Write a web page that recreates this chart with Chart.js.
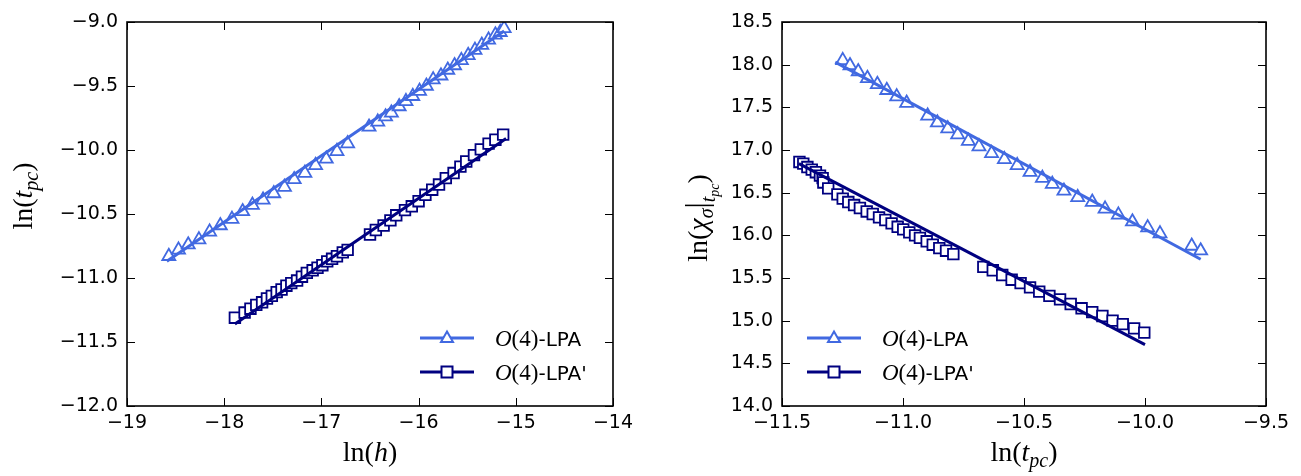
<!DOCTYPE html>
<html>
<head>
<meta charset="utf-8">
<script src="https://cdn.jsdelivr.net/npm/chart.js@4.4.1/dist/chart.umd.min.js"></script>
<style>
  body { margin: 0; background: #fff; width: 1301px; height: 476px; position: relative; overflow: hidden; }
  .box { position: absolute; top: 0; height: 476px; }
</style>
</head>
<body>
<div class="box" style="left:0;width:650px"><canvas id="left"></canvas></div>
<div class="box" style="left:650px;width:651px"><canvas id="right"></canvas></div>
<script>
// left panel: ln(t_pc) vs ln(h)
const hLpa = [-18.57,-18.47,-18.37,-18.26,-18.15,-18.04,-17.92,-17.81,-17.71,-17.60,-17.49,-17.38,-17.28,-17.17,-17.06,-16.95,-16.84,-16.73,-16.51,-16.42,-16.34,-16.28,-16.20,-16.13,-16.06,-15.99,-15.92,-15.85,-15.77,-15.70,-15.63,-15.56,-15.49,-15.42,-15.35,-15.28,-15.21,-15.16,-15.12];
const tLpa = [-10.83,-10.78,-10.74,-10.70,-10.64,-10.59,-10.54,-10.48,-10.43,-10.39,-10.34,-10.29,-10.23,-10.18,-10.12,-10.07,-10.01,-9.95,-9.82,-9.78,-9.74,-9.71,-9.66,-9.62,-9.58,-9.54,-9.50,-9.45,-9.42,-9.375,-9.34,-9.30,-9.26,-9.22,-9.18,-9.14,-9.10,-9.08,-9.05];
const hLpaP = [-17.89,-17.79,-17.73,-17.67,-17.61,-17.56,-17.51,-17.46,-17.41,-17.36,-17.31,-17.25,-17.20,-17.15,-17.09,-17.04,-16.99,-16.94,-16.89,-16.84,-16.78,-16.73,-16.50,-16.44,-16.36,-16.29,-16.23,-16.14,-16.07,-16.00,-15.93,-15.86,-15.79,-15.72,-15.64,-15.57,-15.51,-15.43,-15.36,-15.28,-15.21,-15.13];
const tLpaP = [-11.31,-11.27,-11.24,-11.21,-11.19,-11.16,-11.14,-11.11,-11.09,-11.06,-11.04,-11.02,-10.99,-10.96,-10.94,-10.92,-10.90,-10.87,-10.85,-10.83,-10.80,-10.78,-10.66,-10.625,-10.59,-10.55,-10.51,-10.47,-10.44,-10.40,-10.35,-10.31,-10.27,-10.22,-10.18,-10.13,-10.09,-10.04,-9.995,-9.95,-9.92,-9.88];
const fitHLpa = [-18.59, -15.12];
const fitTLpa = [-10.87, -9.07];
const fitHLpaP = [-17.89, -15.10];
const fitTLpaP = [-11.36, -9.91];

// right panel: ln(chi_sigma) vs ln(t_pc)
const tcLpa = [-11.249,-11.219,-11.185,-11.147,-11.106,-11.067,-11.026,-10.985,-10.898,-10.858,-10.815,-10.774,-10.730,-10.686,-10.634,-10.581,-10.528,-10.475,-10.424,-10.383,-10.335,-10.278,-10.218,-10.165,-10.110,-10.052,-9.989,-9.938,-9.807,-9.770];
const chiLpa = [18.05,17.99,17.92,17.84,17.77,17.70,17.625,17.55,17.40,17.32,17.25,17.18,17.105,17.04,16.96,16.89,16.82,16.74,16.67,16.60,16.52,16.445,16.39,16.31,16.24,16.16,16.09,16.02,15.875,15.82];
const tcLpaP = [-11.428,-11.412,-11.395,-11.377,-11.360,-11.343,-11.332,-11.329,-11.309,-11.271,-11.249,-11.226,-11.202,-11.178,-11.150,-11.125,-11.099,-11.073,-11.047,-11.022,-10.999,-10.974,-10.950,-10.930,-10.902,-10.877,-10.850,-10.822,-10.792,-10.668,-10.629,-10.590,-10.551,-10.514,-10.475,-10.437,-10.395,-10.351,-10.307,-10.262,-10.218,-10.176,-10.134,-10.092,-10.045,-10.003];
const chiLpaP = [16.86,16.84,16.80,16.77,16.74,16.70,16.67,16.62,16.55,16.48,16.43,16.39,16.355,16.32,16.28,16.25,16.21,16.18,16.14,16.10,16.07,16.035,16.00,15.97,15.93,15.89,15.85,15.82,15.78,15.63,15.59,15.535,15.48,15.44,15.39,15.34,15.29,15.25,15.195,15.145,15.10,15.055,15.00,14.96,14.91,14.86];
const fitTcLpa = [-11.28, -9.77];
const fitChiLpa = [18.03, 15.72];
const fitTcLpaP = [-11.43, -10.0];
const fitChiLpaP = [16.84, 14.72];

const seriesNames = ['LPA', "LPA'"];
const lightBlue = '#4169E1';
const navy = '#000080';

const SERIF = '"Liberation Serif", "DejaVu Serif", serif';
const SANS = '"DejaVu Sans", sans-serif';

function pts(xs, ys) {
    return xs.map((x, i) => ({ x: x, y: ys[i] }));
}

function minus(v, digits) {
    const s = digits ? Math.abs(v).toFixed(digits) : String(Math.abs(Math.round(v)));
    return (v < -1e-9 ? '\u2212' : '') + s;
}

function fontOf(p, size) {
    return (p.it ? 'italic ' : '') + Math.round(size * (p.s || 1)) + 'px ' + (p.sans ? SANS : SERIF);
}

// draw a mathtext-like label from pieces, centred on cx
function drawMath(ctx, parts, cx, baseY, size) {
    let w = 0;
    parts.forEach(p => {
        ctx.font = fontOf(p, size);
        w += ctx.measureText(p.t).width + (p.gap || 0) * size;
    });
    drawLeftMath(ctx, parts, cx - w / 2, baseY, size);
}

function drawLeftMath(ctx, parts, x0, baseY, size) {
    let x = x0;
    parts.forEach(p => {
        ctx.font = fontOf(p, size);
        ctx.fillText(p.t, x, baseY + (p.dy || 0) * size);
        x += ctx.measureText(p.t).width + (p.gap || 0) * size;
    });
}

const legendLabel = name => [
    { t: 'O', it: true },
    { t: '(4)' },
    { t: '-' + name, sans: true, s: 0.88 }
];

// frame, inward ticks, axis titles and legend
const decor = {
    id: 'decor',
    afterDatasetsDraw(chart, args, opts) {
        const { ctx, chartArea: a, scales } = chart;
        ctx.save();
        ctx.strokeStyle = '#000';
        ctx.lineWidth = 1;
        ctx.beginPath();
        scales.x.ticks.forEach(t => {
            const p = Math.round(scales.x.getPixelForValue(t.value)) + 0.5;
            ctx.moveTo(p, a.bottom); ctx.lineTo(p, a.bottom - 8);
            ctx.moveTo(p, a.top); ctx.lineTo(p, a.top + 8);
        });
        scales.y.ticks.forEach(t => {
            const p = Math.round(scales.y.getPixelForValue(t.value)) + 0.5;
            ctx.moveTo(a.left, p); ctx.lineTo(a.left + 8, p);
            ctx.moveTo(a.right, p); ctx.lineTo(a.right - 8, p);
        });
        ctx.stroke();
        ctx.lineWidth = 1.6;
        ctx.strokeRect(a.left, a.top, a.right - a.left, a.bottom - a.top);

        // axis titles
        ctx.fillStyle = '#000';
        ctx.textBaseline = 'alphabetic';
        drawMath(ctx, opts.xTitle, (a.left + a.right) / 2, 461, 28);
        ctx.save();
        ctx.translate(opts.yTitleX, opts.yTitleY);
        ctx.rotate(-Math.PI / 2);
        drawMath(ctx, opts.yTitle, 0, 0, 28);
        ctx.restore();

        // legend
        const lg = opts.legend;
        [0, 1].forEach(i => {
            const ds = chart.data.datasets[i];
            const y = lg.y + i * 34;
            ctx.strokeStyle = ds.borderColor;
            ctx.lineWidth = 3;
            ctx.beginPath();
            ctx.moveTo(lg.x, y); ctx.lineTo(lg.x + 54, y);
            ctx.stroke();
            const m = chart.data.datasets[i + 2];
            const cx = lg.x + 27;
            ctx.lineWidth = 2;
            ctx.fillStyle = '#fff';
            ctx.beginPath();
            if (m.pointStyle === 'triangle') {
                ctx.moveTo(cx, y - 6.5); ctx.lineTo(cx + 6, y + 4); ctx.lineTo(cx - 6, y + 4); ctx.closePath();
            } else {
                ctx.rect(cx - 5.5, y - 5.5, 11, 11);
            }
            ctx.fill(); ctx.stroke();
            ctx.fillStyle = '#000';
            drawLeftMath(ctx, legendLabel(seriesNames[i]), lg.x + 75, y + 8, 23);
        });
        ctx.restore();
    }
};

function makeChart(id, cfg) {
    const ctx = document.getElementById(id).getContext('2d');
    return new Chart(ctx, {
        type: 'scatter',
        data: {
            datasets: [
                { label: 'fit LPA', data: pts(cfg.fitA[0], cfg.fitA[1]), showLine: true, borderColor: lightBlue, borderWidth: 3, pointRadius: 0, order: 0 },
                { label: "fit LPA'", data: pts(cfg.fitB[0], cfg.fitB[1]), showLine: true, borderColor: navy, borderWidth: 3, pointRadius: 0, order: 0 },
                { label: seriesNames[0], data: pts(cfg.a[0], cfg.a[1]), pointStyle: 'triangle', pointRadius: 7.5, borderWidth: 1.8, borderColor: lightBlue, backgroundColor: '#fff', order: 1 },
                { label: seriesNames[1], data: pts(cfg.b[0], cfg.b[1]), pointStyle: 'rect', pointRadius: 7.5, borderWidth: 1.8, borderColor: navy, backgroundColor: '#fff', order: 2 }
            ]
        },
        options: {
            responsive: true,
            maintainAspectRatio: false,
            animation: false,
            layout: { padding: { top: 22, right: cfg.padRight, left: 0, bottom: 0 } },
            plugins: {
                legend: { display: false },
                tooltip: { enabled: false },
                decor: cfg.decor
            },
            scales: {
                x: {
                    type: 'linear', min: cfg.xMin, max: cfg.xMax,
                    grid: { display: false, drawTicks: false },
                    border: { display: false },
                    ticks: { stepSize: cfg.xStep, autoSkip: false, maxRotation: 0, padding: 6, color: '#000', font: { family: SANS, size: 19 }, callback: v => minus(v, cfg.xDigits) },
                    afterFit: s => { s.height = 70; }
                },
                y: {
                    type: 'linear', min: cfg.yMin, max: cfg.yMax,
                    grid: { display: false, drawTicks: false },
                    border: { display: false },
                    ticks: { stepSize: 0.5, autoSkip: false, padding: 9, color: '#000', font: { family: SANS, size: 19 }, callback: v => minus(v, 1) },
                    afterFit: s => { s.width = cfg.yWidth; }
                }
            }
        },
        plugins: [decor]
    });
}

makeChart('left', {
    a: [hLpa, tLpa], b: [hLpaP, tLpaP], fitA: [fitHLpa, fitTLpa], fitB: [fitHLpaP, fitTLpaP],
    xMin: -19, xMax: -14, xStep: 1, xDigits: 0, yMin: -12, yMax: -9,
    yWidth: 127, padRight: 37,
    decor: {
        xTitle: [{ t: 'ln(' }, { t: 'h', it: true }, { t: ')' }],
        yTitle: [{ t: 'ln(' }, { t: 't', it: true }, { t: 'pc', it: true, s: 0.7, dy: 0.22 }, { t: ')' }],
        yTitleX: 32, yTitleY: 196,
        legend: { x: 420, y: 338 }
    }
});

makeChart('right', {
    a: [tcLpa, chiLpa], b: [tcLpaP, chiLpaP], fitA: [fitTcLpa, fitChiLpa], fitB: [fitTcLpaP, fitChiLpaP],
    xMin: -11.5, xMax: -9.5, xStep: 0.5, xDigits: 1, yMin: 14, yMax: 18.5,
    yWidth: 132, padRight: 35,
    decor: {
        xTitle: [{ t: 'ln(' }, { t: 't', it: true }, { t: 'pc', it: true, s: 0.7, dy: 0.22 }, { t: ')' }],
        yTitle: [{ t: 'ln(' }, { t: '\u03c7', it: true }, { t: '\u03c3', it: true, s: 0.7, dy: 0.22 }, { t: '|', s: 1.1 }, { t: 't', it: true, s: 0.7, dy: 0.3 }, { t: 'pc', it: true, s: 0.5, dy: 0.42 }, { t: ')' }],
        yTitleX: 57, yTitleY: 218,
        legend: { x: 157, y: 338 }
    }
});
</script>
</body>
</html>
